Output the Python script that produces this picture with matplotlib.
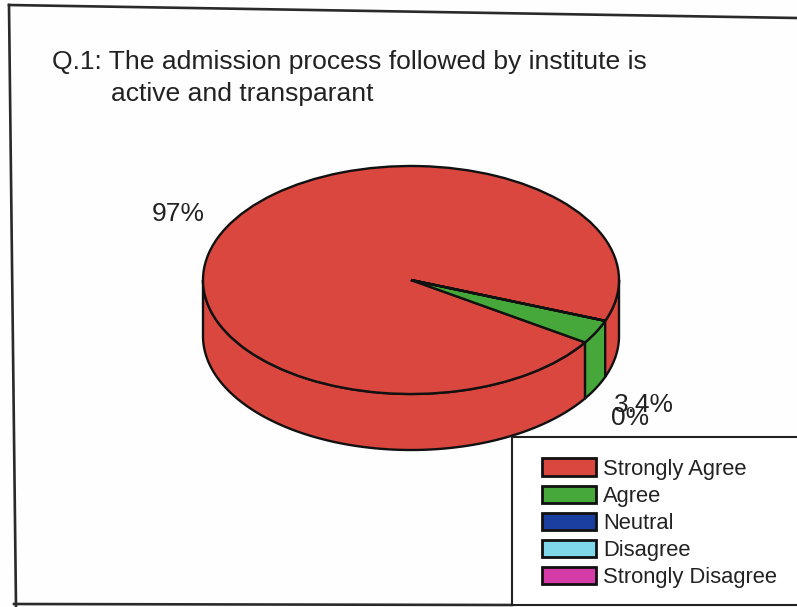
import numpy as np
import matplotlib
matplotlib.use("Agg")
import matplotlib.pyplot as plt
from matplotlib.patches import Rectangle

categories = ["Strongly Agree", "Agree", "Neutral", "Disagree", "Strongly Disagree"]
values = [97, 3.4, 0, 0, 0]
colors = ["#d9473f", "#46a83a", "#1a3fa0", "#7fd8ea", "#d63aa6"]
title_lines = ["Q.1: The admission process followed by institute is", "active and transparant"]
value_labels = ["97%", "3.4%", "0%"]

plt.rcParams["font.family"] = ["Liberation Sans", "DejaVu Sans"]
W, H = 797, 607
INK = "#222222"
fig = plt.figure(figsize=(W / 100, H / 100), dpi=100, facecolor="#fefefe")

# pixel overlay for frame, text, legend
ov = fig.add_axes([0, 0, 1, 1], zorder=3)
ov.set_xlim(0, W); ov.set_ylim(H, 0); ov.axis("off"); ov.patch.set_alpha(0)

# pie axes: unit circle squashed to the ellipse
L, R, T, B = 203, 619, 166, 394
ax = fig.add_axes([L / W, 1 - B / H, (R - L) / W, (B - T) / H], zorder=2)
ax.set_xlim(-1, 1); ax.set_ylim(-1, 1); ax.axis("off")
depth = 56 / ((B - T) / 2)
start = -21.0
frac = np.array(values, float) / sum(values)
edges = start + np.concatenate([[0], np.cumsum(frac)]) * 360

# side wall
def wall(a0, a1, color):
    t = np.radians(np.linspace(a0, a1, 200))
    x = np.cos(t); y = np.sin(t)
    px = np.concatenate([x, x[::-1]])
    py = np.concatenate([y, (y - depth)[::-1]])
    ax.fill(px, py, facecolor=color, edgecolor="#111111", lw=1.7, clip_on=False, joinstyle="round")

wall(180, edges[1], colors[0])
wall(edges[1], edges[2], colors[1])
wall(edges[2], 360, colors[0])

wedges, _ = ax.pie(values, colors=colors, startangle=start, counterclock=True, radius=1,
                   wedgeprops=dict(edgecolor="#111111", linewidth=1.7, clip_on=False))
ax.set_aspect("auto")
ax.set_xlim(-1, 1); ax.set_ylim(-1, 1)

# frame
ov.plot([9, 797], [5, 18], color="#2a2a2a", lw=1.9)
ov.plot([9, 16], [5, 607], color="#2a2a2a", lw=1.9)
ov.plot([14, 512], [604, 605], color="#2a2a2a", lw=1.9)

# title
ov.text(52, 62, title_lines[0], fontsize=19.05, color=INK, va="center", ha="left")
ov.text(111, 94, title_lines[1], fontsize=19.05, color=INK, va="center", ha="left")

# value labels
ov.text(178, 214, value_labels[0], fontsize=19, color=INK, ha="center", va="center")
ov.text(643.5, 405, value_labels[1], fontsize=19, color=INK, ha="center", va="center")
ov.text(630, 418, value_labels[2], fontsize=19, color=INK, ha="center", va="center")

# legend
ov.add_patch(Rectangle((512, 437), 300, 168, facecolor="white", edgecolor="#222222", lw=1.5, zorder=4))
leg = ov.legend(wedges, categories, loc="upper left", bbox_to_anchor=(542 / W, 1 - 458.5 / H),
                bbox_transform=fig.transFigure, frameon=False, fontsize=15.85, labelcolor=INK,
                handlelength=2.45, handleheight=0.82, handletextpad=0.32, labelspacing=0.27,
                borderpad=0, borderaxespad=0)
leg.set_zorder(5)
for h in leg.legend_handles:
    h.set_edgecolor("#111111"); h.set_linewidth(2.0)

fig.savefig("out.png", dpi=100, facecolor=fig.get_facecolor())
